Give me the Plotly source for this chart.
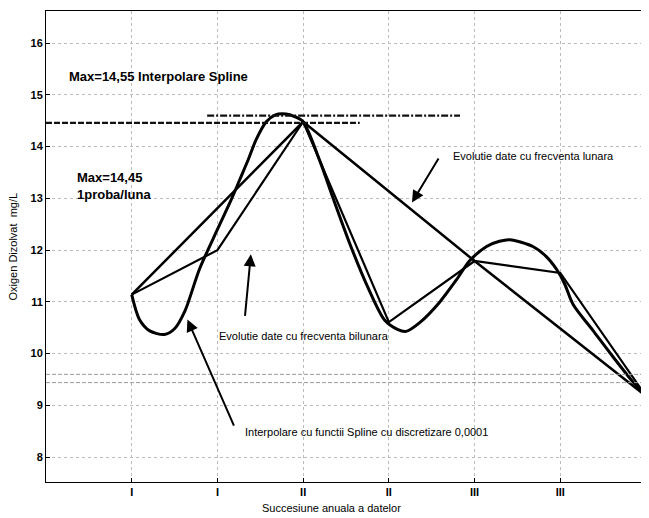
import plotly.graph_objects as go

# sampling positions along the year (ticks)
tick_pos = [1, 2, 3, 4, 5, 6, 7]
tick_text = ["I", "I", "II", "II", "III", "III", "IV"]
y_ticks = [8, 9, 10, 11, 12, 13, 14, 15, 16]

# monthly data (1 proba/luna)
lunar_x = [1, 3, 5, 7]
lunar_y = [11.14, 14.48, 11.79, 9.18]

# twice-a-month data
bilunar_x = [1, 2, 3, 4, 5, 6, 7]
bilunar_y = [11.14, 12.0, 14.48, 10.61, 11.79, 11.56, 9.18]

# spline curve
spline_x = [1.0, 1.09, 1.21, 1.38, 1.50, 1.62, 1.79, 2.0, 2.16, 2.26, 2.36, 2.45,
            2.57, 2.67, 2.80, 2.90, 3.0, 3.2, 3.35, 3.55, 3.75, 3.95, 4.1, 4.2,
            4.36, 4.59, 4.79, 4.94, 5.14, 5.29, 5.41, 5.68, 5.84, 5.96, 6.05,
            6.15, 6.38, 6.61, 6.85, 7.0]
spline_y = [11.14, 10.66, 10.44, 10.37, 10.48, 10.82, 11.63, 12.4, 12.97, 13.36, 13.75, 14.13,
            14.48, 14.61, 14.63, 14.58, 14.48, 13.7, 13.0, 12.1, 11.3, 10.65, 10.47, 10.43,
            10.6, 10.99, 11.43, 11.79, 12.07, 12.17, 12.2, 12.07, 11.87, 11.62, 11.35,
            10.95, 10.45, 9.95, 9.45, 9.18]

# max reference lines: (value, x start, x end)
max_spline = [14.6, 1.88, 4.83]
max_lunar = [14.46, 0.0, 3.66]

# faint dashed lines in the lower part
extra_lines = [9.6, 9.44]

FONT = "Liberation Sans, Arial, sans-serif"

fig = go.Figure()

fig.add_trace(go.Scatter(x=lunar_x, y=lunar_y, mode="lines",
                         line={"color": "black", "width": 2.5}, showlegend=False))
fig.add_trace(go.Scatter(x=bilunar_x, y=bilunar_y, mode="lines",
                         line={"color": "black", "width": 2.2}, showlegend=False))
fig.add_trace(go.Scatter(x=spline_x, y=spline_y, mode="lines",
                         line={"color": "black", "width": 3, "shape": "spline", "smoothing": 0.8},
                         showlegend=False))

fig.add_trace(go.Scatter(x=[max_spline[1], max_spline[2]], y=[max_spline[0]] * 2, mode="lines",
                         line={"color": "#111", "width": 2.2, "dash": "7px,2px,2px,2px"},
                         showlegend=False))
fig.add_trace(go.Scatter(x=[max_lunar[1], max_lunar[2]], y=[max_lunar[0]] * 2, mode="lines",
                         line={"color": "#111", "width": 2.2, "dash": "6px,2px"}, showlegend=False))

for v in extra_lines:
    fig.add_trace(go.Scatter(x=[0, 7], y=[v, v], mode="lines",
                             line={"color": "#999", "width": 1, "dash": "4px,2px"}, showlegend=False))

texts = [
    ("<b>Max=14,55 Interpolare Spline</b>", 0.25, 15.36, 13),
    ("<b>Max=14,45<br>1proba/luna</b>", 0.335, 13.23, 13),
    ("Evolutie date cu frecventa lunara", 4.73, 13.82, 11),
    ("Evolutie date cu frecventa bilunara", 2.0, 10.34, 11),
    ("Interpolare cu functii Spline cu discretizare 0,0001", 2.3, 8.49, 11),
]
for t, x, y, s in texts:
    fig.add_annotation(x=x, y=y, text=t, showarrow=False, xanchor="left", yanchor="middle",
                       align="left", font={"family": FONT, "size": s, "color": "black"})

arrows = [
    (4.27, 12.92, 4.59, 13.80),
    (2.39, 11.92, 2.32, 10.70),
    (1.65, 10.66, 2.20, 8.58),
]
for x, y, ax, ay in arrows:
    fig.add_annotation(x=x, y=y, ax=ax, ay=ay, xref="x", yref="y", axref="x", ayref="y",
                       text="", showarrow=True, arrowhead=2, arrowsize=1.2, arrowwidth=2,
                       arrowcolor="black")

fig.add_annotation(x=-0.07, y=0.5, xref="paper", yref="paper", text="Oxigen Dizolvat  mg/L",
                   textangle=-90, showarrow=False, xanchor="left", yanchor="middle",
                   font={"family": FONT, "size": 11, "color": "black"})
fig.add_annotation(x=0.475, y=-0.055, xref="paper", yref="paper", text="Succesiune anuala a datelor",
                   showarrow=False, yanchor="middle", font={"family": FONT, "size": 11, "color": "black"})

fig.update_xaxes(range=[0, 7], tickvals=tick_pos, ticktext=[f"<b>{t}</b>" for t in tick_text],
                 showgrid=True, gridcolor="#bbb", griddash="dot", gridwidth=1,
                 showline=True, linecolor="black", linewidth=1, mirror=True,
                 ticks="inside", ticklen=4, tickcolor="black", zeroline=False, automargin=False,
                 ticklabeloverflow="allow",
                 tickfont={"family": FONT, "size": 11, "color": "black"})
fig.update_yaxes(range=[7.52, 16.62], tickvals=y_ticks, ticktext=[f"<b>{v}</b>" for v in y_ticks],
                 showgrid=True, gridcolor="#bbb", griddash="dot", gridwidth=1,
                 showline=True, linecolor="black", linewidth=1, mirror=True,
                 ticks="inside", ticklen=4, tickcolor="black", zeroline=False, automargin=False,
                 tickfont={"family": FONT, "size": 11, "color": "black"})

# the page adds an 8px body margin, so the figure is kept 8px smaller
fig.update_layout(
    width=641,
    height=510,
    margin={"l": 38, "r": 3, "t": 3, "b": 36},
    plot_bgcolor="white",
    paper_bgcolor="white",
    showlegend=False,
)

fig.write_html("out.html")
